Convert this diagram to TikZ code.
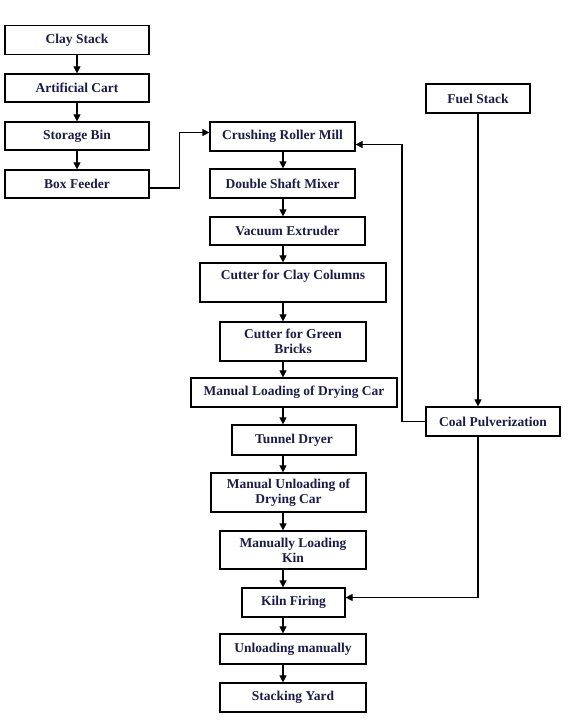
\documentclass[tikz,border=0pt]{standalone}
\usepackage{fontspec}
\setmainfont{Liberation Serif}
\usetikzlibrary{arrows.meta}
\definecolor{boxtext}{RGB}{28,28,72}
\tikzset{
  box/.style={draw, line width=1.2pt, align=center, inner sep=1pt,
    text=boxtext, font=\fontsize{13.5}{15}\selectfont\bfseries},
  arr/.style={line width=1.1pt, -{Triangle[width=7pt,length=7pt]}}
}
\begin{document}
\begin{tikzpicture}[x=1pt,y=-1pt]
    \useasboundingbox[fill=white] (0,0) rectangle (572,723);
    % Draw the left column
    \node[box, minimum width=144, minimum height=29] (clay) at (77,40) {Clay Stack};
    \node[box, minimum width=144, minimum height=28] (cart) at (77,88) {Artificial Cart};
    \node[box, minimum width=144, minimum height=28] (bin) at (77,136) {Storage Bin};
    \node[box, minimum width=144, minimum height=28] (feeder) at (77,184) {Box Feeder};
    \draw[arr] (clay) -- (cart);
    \draw[arr] (cart) -- (bin);
    \draw[arr] (bin) -- (feeder);
    % Draw the main column
    \coordinate (spine) at (283,0);
    \node[box, minimum width=145, minimum height=29] (mill) at (282.5,136.5) {Crushing Roller Mill};
    \node[box, minimum width=145, minimum height=29] (mixer) at (282.5,183.5) {Double Shaft Mixer};
    \node[box, minimum width=155, minimum height=28] (extruder) at (287.5,231) {Vacuum Extruder};
    \node[box, minimum width=186, minimum height=39] (columns) at (293,282.5) {Cutter for Clay Columns\\\mbox{}};
    \node[box, minimum width=146, minimum height=39] (green) at (293,341.5) {Cutter for Green\\Bricks};
    \node[box, minimum width=206, minimum height=29] (loading) at (294,392.5) {Manual Loading of Drying Car};
    \node[box, minimum width=124, minimum height=30] (dryer) at (294,440) {Tunnel Dryer};
    \node[box, minimum width=155, minimum height=39] (unloading) at (288.5,492.5) {Manual Unloading of\\Drying Car};
    \node[box, minimum width=146, minimum height=38] (kin) at (293,550) {Manually Loading\\Kin};
    \node[box, minimum width=103, minimum height=29] (firing) at (293.5,602.5) {Kiln Firing};
    \node[box, minimum width=146, minimum height=30] (manually) at (293,649) {Unloading manually};
    \node[box, minimum width=146, minimum height=29] (yard) at (293,697.5) {Stacking Yard};
    \foreach \a/\b in {mill/mixer, mixer/extruder, extruder/columns, columns/green,
        green/loading, loading/dryer, dryer/unloading, unloading/kin, kin/firing,
        firing/manually, manually/yard}
      \draw[arr] (\a.south -| spine) -- (\b.north -| spine);
    % Feed from the left column
    \draw[arr] ([yshift=-4pt]feeder.east) -- ++(30,0) |- ([yshift=4pt]mill.west);
    % Draw the fuel line
    \node[box, minimum width=104, minimum height=29] (fuel) at (478,98.5) {Fuel Stack};
    \node[box, minimum width=134, minimum height=29] (coal) at (493,421.5) {Coal Pulverization};
    \coordinate (back) at (402,0);
    \draw[arr] (fuel.south) -- (fuel.south |- coal.north);
    \draw[arr] (coal.west) -- (coal.west -| back) |- ([yshift=-8pt]mill.east);
    \draw[arr] (fuel.south |- coal.south) |- ([yshift=5pt]firing.east);
\end{tikzpicture}
\end{document}
